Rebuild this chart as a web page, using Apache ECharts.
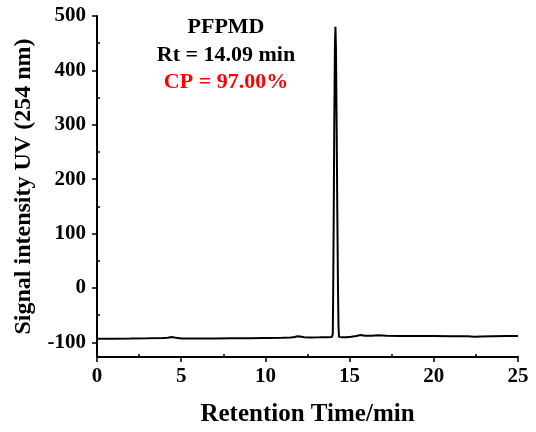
<!DOCTYPE html>
<html>
<head>
<meta charset="utf-8">
<script src="https://cdn.jsdelivr.net/npm/echarts@6/dist/echarts.min.js"></script>
<style>html,body{margin:0;padding:0;background:#fff;}#c{width:536px;height:432px;}</style>
</head>
<body>
<div id="c"></div>
<script>
// Retention time (min)
var time = [0, 1, 2, 3, 3.9, 4.2, 4.45, 4.7, 5, 6, 7, 8, 9, 10, 11, 11.5, 11.75, 11.9, 12.05, 12.3, 12.7, 13.2, 13.6, 13.95,
  14.0, 14.02, 14.05, 14.09, 14.13, 14.16, 14.19, 14.23, 14.27, 14.31, 14.34, 14.37, 14.42, 14.56,
  14.8, 15.1, 15.4, 15.65, 15.9, 16.3, 16.7, 17.2, 18, 19, 20, 21, 22, 22.4, 22.8, 23.5, 24.3, 25];
// Signal intensity UV (254 nm)
var signal = [-93.6, -93.3, -93, -92.5, -91.9, -91.5, -90.2, -91.8, -93, -93, -92.8, -92.5, -92.3, -92, -91.8, -91.3, -90.2, -88.8, -89.5, -90.8, -91, -90.8, -90.5, -90,
  -85, -30, 100, 300, 450, 480, 440, 300, 140, 0, -70, -90, -92, -90.8,
  -90.8, -89.8, -88.5, -86.5, -87.8, -88, -87.2, -88, -88.4, -88.6, -88.6, -88.8, -89, -89.8, -89.3, -88.8, -88.6, -88.6];
// Axis ticks
var xMajorTicks = [0, 5, 10, 15, 20, 25];
var xMinorTicks = [2.5, 7.5, 12.5, 17.5, 22.5];
var yMajorTicks = [-100, 0, 100, 200, 300, 400, 500];
var yMinorTicks = [-50, 50, 150, 250, 350, 450];
var xRange = [0, 25];
var yRange = [-127, 500];
var annotations = ['PFPMD', 'Rt = 14.09 min', 'CP = 97.00%'];
var annotationColors = ['#000000', '#000000', '#ff0000'];

var FONT = "'Times New Roman', 'Liberation Serif', serif";
var chart = echarts.init(document.getElementById('c'), null, {renderer: 'canvas'});
var pts = time.map(function (t, i) { return [t, signal[i]]; });

var axisLineStyle = {color: '#000', width: 2};
var option = {
  animation: false,
  backgroundColor: '#fff',
  grid: {left: 97, right: 18, top: 16, bottom: 75, containLabel: false},
  xAxis: [{
    type: 'value', min: xRange[0], max: xRange[1], position: 'bottom',
    name: 'Retention Time/min', nameLocation: 'middle', nameGap: 45,
    nameTextStyle: {fontFamily: FONT, fontWeight: 'bold', fontSize: 25, color: '#000'},
    axisLine: {show: true, onZero: false, lineStyle: axisLineStyle},
    axisTick: {show: true, inside: false, length: 5, lineStyle: {color: '#000', width: 1.5}, customValues: xMajorTicks},
    axisLabel: {margin: 9, fontFamily: FONT, fontWeight: 'bold', fontSize: 21, color: '#000', customValues: xMajorTicks},
    splitLine: {show: false}
  }, {
    type: 'value', min: xRange[0], max: xRange[1], position: 'bottom', offset: 0,
    axisLine: {show: false, onZero: false},
    axisTick: {show: true, inside: true, length: 3, lineStyle: {color: '#000', width: 1.5}, customValues: xMinorTicks},
    axisLabel: {show: false, customValues: xMinorTicks},
    splitLine: {show: false}
  }],
  yAxis: [{
    type: 'value', min: yRange[0], max: yRange[1], position: 'left',
    name: 'Signal intensity UV (254 nm)', nameLocation: 'middle', nameGap: 61, nameRotate: 90,
    nameTextStyle: {fontFamily: FONT, fontWeight: 'bold', fontSize: 24, color: '#000'},
    axisLine: {show: true, onZero: false, lineStyle: axisLineStyle},
    axisTick: {show: true, inside: false, length: 5, lineStyle: {color: '#000', width: 1.5}, customValues: yMajorTicks},
    axisLabel: {margin: 11, fontFamily: FONT, fontWeight: 'bold', fontSize: 21, color: '#000', customValues: yMajorTicks},
    splitLine: {show: false}
  }, {
    type: 'value', min: yRange[0], max: yRange[1], position: 'left', offset: 0,
    axisLine: {show: false, onZero: false},
    axisTick: {show: true, inside: true, length: 3, lineStyle: {color: '#000', width: 1.5}, customValues: yMinorTicks},
    axisLabel: {show: false, customValues: yMinorTicks},
    splitLine: {show: false}
  }],
  series: [{
    type: 'line', data: pts, xAxisIndex: 0, yAxisIndex: 0,
    showSymbol: false, symbol: 'none', smooth: false,
    lineStyle: {color: '#000', width: 2}
  }],
  graphic: annotations.map(function (s, i) {
    return {
      type: 'text', x: 226, y: [27, 55, 82][i],
      style: {text: s, fill: annotationColors[i], font: 'bold 22px ' + FONT, align: 'center', verticalAlign: 'middle'}
    };
  })
};
chart.setOption(option);
</script>
</body>
</html>
